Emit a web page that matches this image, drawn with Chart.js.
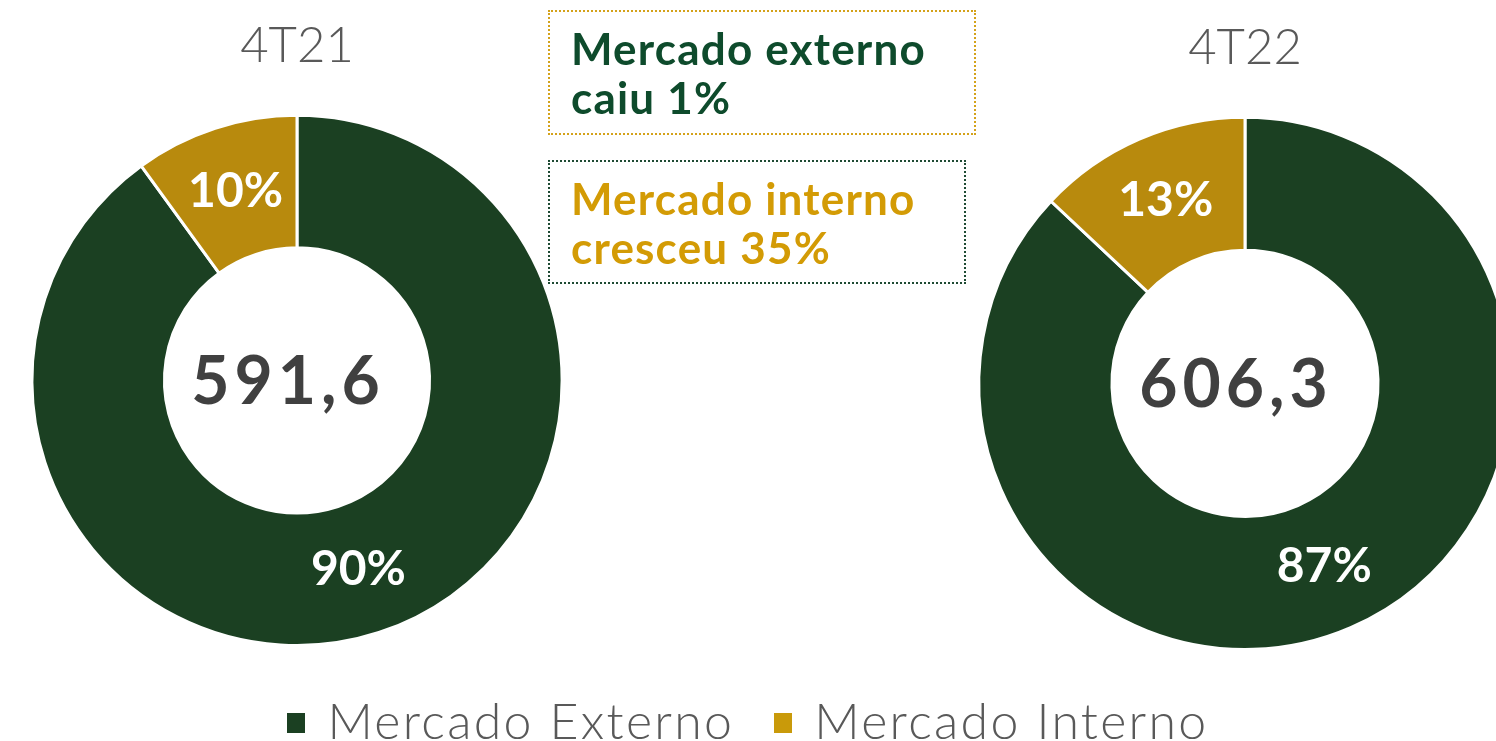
<!DOCTYPE html>
<html>
<head>
<meta charset="utf-8">
<script src="https://cdn.jsdelivr.net/npm/chart.js@4"></script>
<style>
  html, body { margin: 0; padding: 0; background: #fff; overflow: hidden; }
  body { width: 1496px; height: 741px; position: relative; font-family: Lato, "Open Sans", sans-serif; }
  .chartBox { position: absolute; top: 0; width: 600px; height: 680px; }
  .note { position: absolute; box-sizing: border-box; padding: 12px 0 0 21px; font-weight: 700; font-size: 44px; line-height: 49px; letter-spacing: 1.2px; }
  #legend { position: absolute; left: 0; width: 1496px; top: 690px; display: flex; justify-content: center; gap: 40px; color: #595959; font-size: 50px; font-weight: 300; letter-spacing: 2.3px; }
  #legend span.item { display: flex; align-items: center; }
  #legend i { display: inline-block; width: 18px; height: 20px; margin-right: 22px; margin-top: 6px; }
</style>
</head>
<body>
<div class="chartBox" style="left:0"><canvas id="chart1"></canvas></div>
<div class="chartBox" style="left:945px"><canvas id="chart2"></canvas></div>

<div class="note" style="left:548px; top:10px; width:428px; height:125px; border:2px dotted #d4a21a; color:#0e4b2c;">Mercado externo<br>caiu 1%</div>
<div class="note" style="left:548px; top:160px; width:418px; height:124px; border:2px dotted #1e4a33; color:#d39b05;">Mercado interno<br>cresceu 35%</div>

<div id="legend"></div>

<script>
// data
const categories = ['Mercado Externo', 'Mercado Interno'];
const periods = ['4T21', '4T22'];
const share4T21 = [90, 10];
const share4T22 = [87, 13];
const totals = [591.6, 606.3];

const colors = ['#1b4022', '#b88a0d'];
const legendColors = ['#1b4022', '#c99a0a'];

// percent labels + total in the hole
const labelPlugin = {
    id: 'labels',
    afterDatasetsDraw(chart) {
        const ctx = chart.ctx;
        const meta = chart.getDatasetMeta(0);
        ctx.save();
        ctx.fillStyle = '#fff';
        ctx.font = 'bold 48px Lato, "Open Sans", sans-serif';
        ctx.textAlign = 'center';
        ctx.textBaseline = 'middle';
        meta.data.forEach((arc, i) => {
            const p = arc.tooltipPosition();
            ctx.fillText(chart.data.datasets[0].data[i] + '%', p.x, p.y);
        });
        const a = meta.data[0];
        ctx.fillStyle = '#404040';
        ctx.font = 'bold 66px Lato, "Open Sans", sans-serif';
        ctx.letterSpacing = '5px';
        const txt = chart.options.plugins.total.text;
        ctx.fillText(txt, a.x - 9, a.y + 2);
        ctx.restore();
    }
};

function makeChart(id, period, values, total, pad) {
    return new Chart(document.getElementById(id), {
        type: 'doughnut',
        data: {
            labels: categories,
            datasets: [{
                data: values,
                backgroundColor: colors,
                borderColor: '#fff',
                borderWidth: 3
            }]
        },
        options: {
            responsive: true,
            maintainAspectRatio: false,
            animation: false,
            cutout: '50%',
            layout: { padding: pad },
            plugins: {
                legend: { display: false },
                tooltip: { enabled: false },
                total: { text: total.toLocaleString('pt-BR', { minimumFractionDigits: 1 }) },
                title: {
                    display: true,
                    text: period,
                    color: '#595959',
                    font: { size: 49, weight: '300', family: 'Lato, "Open Sans", sans-serif' },
                    padding: { top: 17, bottom: 38 }
                }
            }
        },
        plugins: [labelPlugin]
    });
}

makeChart('chart1', periods[0], share4T21, totals[0], { left: 30, right: 36, top: 0, bottom: 33 });
makeChart('chart2', periods[1], share4T22, totals[1], { left: 32, right: 32, top: 2, bottom: 29 });

// legend
const legend = document.getElementById('legend');
categories.forEach((c, i) => {
    const s = document.createElement('span');
    s.className = 'item';
    s.innerHTML = '<i style="background:' + legendColors[i] + '"></i>' + c;
    legend.appendChild(s);
});
</script>
</body>
</html>
